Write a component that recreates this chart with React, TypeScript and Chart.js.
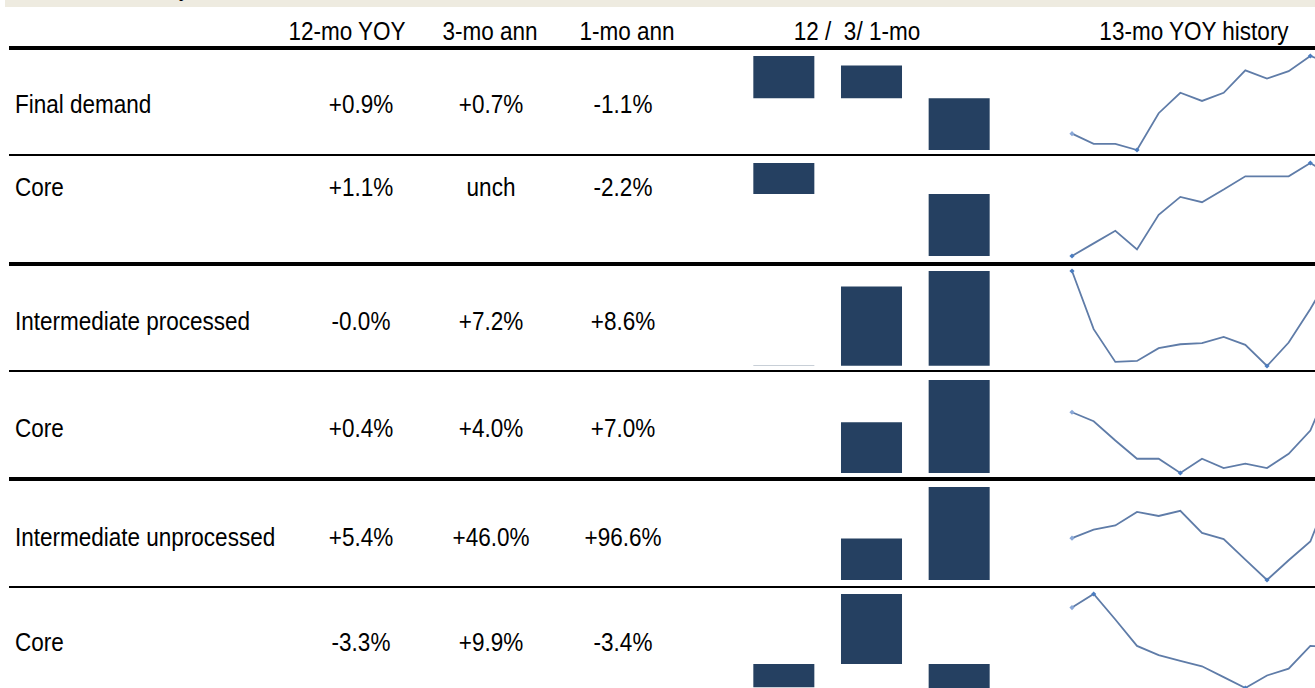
import React, { useEffect, useRef } from 'react';
import { Chart, registerables } from 'chart.js';

Chart.register(...registerables);

// ---------- data ----------
const titleText = 'PPI Summary';
const columnHeaders = ['12-mo YOY', '3-mo ann', '1-mo ann', '12 /  3/ 1-mo', '13-mo YOY history'];
const barCategories = ['12-mo', '3-mo', '1-mo'];
const rowLabels = [
  'Final demand',
  'Core',
  'Intermediate processed',
  'Core',
  'Intermediate unprocessed',
  'Core',
];
const yoy12 = [0.9, 1.1, -0.03, 0.4, 5.4, -3.3];
const ann3 = [0.7, 0, 7.2, 4.0, 46.0, 9.9];
const ann1 = [-1.1, -2.2, 8.6, 7.0, 96.6, -3.4];

const historyMonths = ['1', '2', '3', '4', '5', '6', '7', '8', '9', '10', '11', '12', '13'];
const histFinalDemand = [-0.8, -1.05, -1.05, -1.2, -0.3, 0.2, 0.0, 0.2, 0.75, 0.55, 0.73, 1.1, 0.9];
const histFinalCore = [-0.1, 0.09, 0.28, 0.0, 0.52, 0.79, 0.71, 0.9, 1.1, 1.1, 1.1, 1.3, 1.1];
const histProcessed = [0.03, -3.66, -5.74, -5.68, -4.87, -4.62, -4.55, -4.15, -4.66, -6.0, -4.51, -2.38, -0.03];
const histProcessedCore = [-0.64, -0.93, -1.55, -2.14, -2.14, -2.6, -2.14, -2.44, -2.3, -2.44, -1.98, -1.23, 0.4];
const histUnprocessed = [-5.6, -3.76, -2.88, 0.05, -0.83, 0.27, -4.49, -5.81, -10.2, -14.6, -10.35, -6.32, 5.4];
const histUnprocessedCore = [1.77, 3.5, 0.25, -3.13, -4.3, -5.03, -5.73, -7.11, -8.5, -6.9, -6.03, -3.13, -3.3];
const histories = [histFinalDemand, histFinalCore, histProcessed, histProcessedCore, histUnprocessed, histUnprocessedCore];

// ---------- layout / style ----------
const W = 1315;
const H = 688;
const FONT = '"Liberation Sans", Arial, sans-serif';
const FS = 25;
const SX = 0.9;
const headerX = [347, 490, 627, 857, 1194];
const headerY = 31;
const valueX = [361, 491, 623];
const labelX = 15;
const rowTextY = [104, 187, 321, 428, 537, 642];
const chartRanges: [number, number][] = [
  [56, 150],
  [163, 256],
  [271, 366],
  [380, 473],
  [487, 580],
  [594, 688],
];
const rules: [number, number][] = [
  [46, 4],
  [154, 2],
  [262, 4],
  [370, 2],
  [477, 4],
  [586, 2],
];
const BAR_LEFT = 740;
const BAR_W = 263;
const SPARK_LEFT = 1060;
const SPARK_W = 275;
const SPARK_PAD_L = 12;
const SPARK_PAD_R = 3;
const SPARK_PAD_V = 5;

function fmt(v: number): string {
  if (v === 0) return 'unch';
  return (v > 0 ? '+' : '') + v.toFixed(1) + '%';
}

function BarCell({ values, top, bottom }: { values: number[]; top: number; bottom: number }) {
  const ref = useRef<HTMLCanvasElement>(null);
  const h = bottom - top;
  useEffect(() => {
    const min = Math.min(...values);
    const max = Math.max(...values);
    const chart = new Chart(ref.current as HTMLCanvasElement, {
      type: 'bar',
      data: {
        labels: barCategories,
        datasets: [
          {
            data: values,
            backgroundColor: '#254061',
            borderWidth: 0,
            barPercentage: 0.696,
            categoryPercentage: 1,
            minBarLength: values.some((v) => v === 0) ? 0 : 4,
          },
        ],
      },
      options: {
        animation: false,
        responsive: false,
        maintainAspectRatio: false,
        layout: { padding: 0 },
        plugins: { legend: { display: false }, tooltip: { enabled: false } },
        scales: {
          x: { display: false },
          y: { display: false, min, max },
        },
      },
    });
    return () => chart.destroy();
  }, []);
  return (
    <canvas
      ref={ref}
      width={BAR_W}
      height={h}
      style={{ position: 'absolute', left: BAR_LEFT, top, width: BAR_W, height: h }}
    />
  );
}

function SparkCell({ values, top, bottom }: { values: number[]; top: number; bottom: number }) {
  const ref = useRef<HTMLCanvasElement>(null);
  const h = bottom - top + SPARK_PAD_V * 2;
  useEffect(() => {
    const min = Math.min(...values);
    const max = Math.max(...values);
    const n = values.length;
    const iMax = values.indexOf(max);
    const iMin = values.indexOf(min);
    const radius = values.map((_, i) => (i === 0 || i === n - 1 || i === iMax || i === iMin ? 2.6 : 0));
    const colors = values.map((_, i) => (i === iMax || i === iMin ? '#4a7cc0' : '#8aa8d8'));
    const chart = new Chart(ref.current as HTMLCanvasElement, {
      type: 'line',
      data: {
        labels: historyMonths,
        datasets: [
          {
            data: values,
            borderColor: '#5f7ca8',
            borderWidth: 1.8,
            tension: 0,
            pointRadius: radius,
            pointHoverRadius: radius,
            pointStyle: 'rectRot',
            pointBackgroundColor: colors,
            pointBorderColor: colors,
            pointBorderWidth: 0,
            clip: false,
          },
        ],
      },
      options: {
        animation: false,
        responsive: false,
        maintainAspectRatio: false,
        layout: { padding: { left: SPARK_PAD_L, right: SPARK_PAD_R, top: SPARK_PAD_V, bottom: SPARK_PAD_V } },
        plugins: { legend: { display: false }, tooltip: { enabled: false } },
        scales: {
          x: { display: false, offset: false },
          y: { display: false, min, max },
        },
      },
    });
    return () => chart.destroy();
  }, []);
  return (
    <canvas
      ref={ref}
      width={SPARK_W}
      height={h}
      style={{ position: 'absolute', left: SPARK_LEFT, top: top - SPARK_PAD_V, width: SPARK_W, height: h }}
    />
  );
}

const textBase: React.CSSProperties = {
  position: 'absolute',
  fontFamily: FONT,
  fontSize: FS,
  lineHeight: 1,
  whiteSpace: 'pre',
  color: '#000',
};

const centered: React.CSSProperties = {
  ...textBase,
  transform: `translate(-50%,-50%) scaleX(${SX})`,
};

const leftAligned: React.CSSProperties = {
  ...textBase,
  transformOrigin: '0 50%',
  transform: `translateY(-50%) scaleX(${SX})`,
};

export default function App() {
  return (
    <div
      style={{
        position: 'absolute',
        left: 0,
        top: 0,
        width: W,
        height: H,
        overflow: 'hidden',
        background: '#fff',
      }}
    >
      <div style={{ position: 'absolute', left: 5, top: 0, width: W - 5, height: 7, background: '#EEEBE0' }} />
      <div
        style={{
          ...textBase,
          left: 0,
          width: 190,
          top: -25,
          textAlign: 'right',
          transformOrigin: '100% 50%',
          transform: `scaleX(${SX})`,
        }}
      >
        {titleText}
      </div>

      {columnHeaders.map((t, i) => (
        <div key={'h' + i} style={{ ...centered, left: headerX[i], top: headerY }}>
          {t}
        </div>
      ))}

      {rules.map(([y, t], i) => (
        <div key={'r' + i} style={{ position: 'absolute', left: 9, top: y, width: W - 9, height: t, background: '#000' }} />
      ))}

      {rowLabels.map((lab, i) => (
        <React.Fragment key={'row' + i}>
          <div style={{ ...leftAligned, left: labelX, top: rowTextY[i] }}>{lab}</div>
          {[yoy12[i], ann3[i], ann1[i]].map((v, j) => (
            <div key={'v' + j} style={{ ...centered, left: valueX[j], top: rowTextY[i] }}>
              {fmt(v)}
            </div>
          ))}
          <BarCell values={[yoy12[i], ann3[i], ann1[i]]} top={chartRanges[i][0]} bottom={chartRanges[i][1]} />
          <SparkCell values={histories[i]} top={chartRanges[i][0]} bottom={chartRanges[i][1]} />
        </React.Fragment>
      ))}
    </div>
  );
}
